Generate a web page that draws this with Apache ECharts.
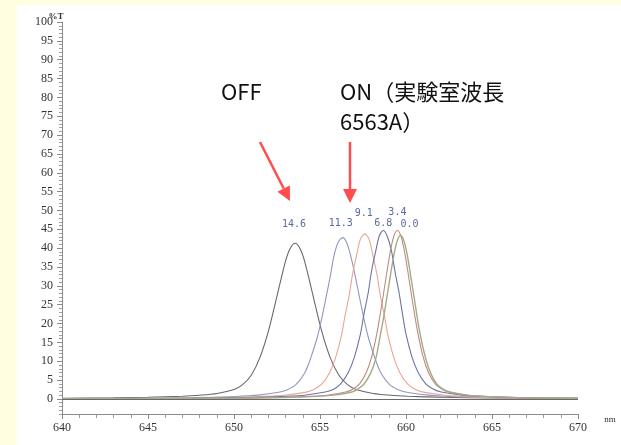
<!DOCTYPE html>
<html><head><meta charset="utf-8">
<script src="https://cdn.jsdelivr.net/npm/echarts@6/dist/echarts.min.js"></script>
<style>
html,body{margin:0;padding:0;background:#fffee0;width:621px;height:445px;overflow:hidden}
#c{position:absolute;left:17px;top:5px;width:604px;height:440px;background:#fff}
</style></head><body><div id="c"></div>
<script>
// tick labels
const xTicks = [640, 645, 650, 655, 660, 665, 670];
const yTicks = [0, 5, 10, 15, 20, 25, 30, 35, 40, 45, 50, 55, 60, 65, 70, 75, 80, 85, 90, 95, 100];
// curve names (peak labels)
const curveNames = ['14.6', '11.3', '9.1', '6.8', '3.4', '0.0'];
// transmission curves [nm, %T]
const curve146 = [[640,0.17],[643,0.29],[645,0.43],[647,0.72],[648,0.99],[649,1.45],[650,2.5],[650.5,3.8],[651,6.3],[651.5,10.9],[652,18.0],[652.5,27.3],[653,36.6],[653.25,39.8],[653.55,41.3],[653.85,39.8],[654.1,36.6],[654.6,27.3],[655.1,18.0],[655.6,10.9],[656.1,6.3],[656.6,3.8],[657.1,2.5],[658.1,1.45],[659.1,0.99],[660.1,0.72],[662.1,0.43],[665,0.24],[670,0.12]];
const curve113 = [[640,0.1],[643.9,0.17],[647.6,0.34],[650.1,0.66],[651.4,1.0],[652.6,1.75],[653.1,2.45],[653.6,3.8],[654.1,6.8],[654.45,10.7],[654.85,16.5],[655.1,21.4],[655.35,26.9],[655.6,32.6],[655.8,37.7],[656.05,41.5],[656.32,42.8],[656.55,41.5],[656.8,37.7],[657.05,32.6],[657.3,26.9],[657.55,21.4],[657.8,16.5],[658.2,10.7],[658.55,6.8],[659.05,3.8],[659.55,2.45],[660.05,1.75],[661.3,1.0],[662.5,0.66],[665,0.34],[668.7,0.17],[670,0.14]];
const curve91 = [[640,0.07],[646.2,0.18],[649.6,0.35],[651.9,0.67],[653.05,1.03],[654.2,1.8],[654.65,2.5],[655.1,3.9],[655.55,6.9],[655.9,10.9],[656.25,16.9],[656.45,21.9],[656.7,27.6],[656.9,33.3],[657.15,38.6],[657.35,42.4],[657.6,43.8],[657.85,42.4],[658.05,38.6],[658.3,33.3],[658.5,27.6],[658.75,21.9],[658.95,16.9],[659.3,10.9],[659.65,6.9],[660.1,3.9],[660.55,2.5],[661,1.8],[662.15,1.03],[663.3,0.67],[665.6,0.35],[669,0.18],[670,0.15]];
const curve68 = [[640,0.06],[647.5,0.18],[650.8,0.36],[653.1,0.69],[654.2,1.05],[655.3,1.83],[655.8,2.56],[656.2,4.0],[656.65,7.1],[657,11.1],[657.35,17.2],[657.55,22.4],[657.8,28.1],[658,34.0],[658.25,39.4],[658.45,43.3],[658.68,44.7],[658.9,43.3],[659.15,39.4],[659.35,34.0],[659.6,28.1],[659.8,22.4],[660,17.2],[660.35,11.1],[660.7,7.1],[661.15,4.0],[661.6,2.56],[662.05,1.83],[663.15,1.05],[664.3,0.69],[666.5,0.36],[670,0.17]];
const curve34 = [[640,0.05],[649.5,0.18],[652.5,0.36],[654.5,0.69],[655.5,1.05],[656.5,1.83],[656.9,2.56],[657.3,4.0],[657.7,7.1],[658,11.1],[658.3,17.2],[658.5,22.4],[658.7,28.1],[658.9,34.0],[659.1,39.4],[659.3,43.3],[659.5,44.7],[659.7,43.3],[659.9,39.4],[660.1,34.0],[660.3,28.1],[660.5,22.4],[660.7,17.2],[661,11.1],[661.3,7.1],[661.7,4.0],[662.1,2.56],[662.5,1.83],[663.5,1.05],[664.5,0.69],[666.5,0.36],[669.5,0.18],[670,0.17]];
const curve00 = [[640,0.05],[650,0.17],[652.9,0.35],[654.8,0.67],[655.8,1.02],[656.8,1.78],[657.15,2.48],[657.55,3.9],[657.95,6.9],[658.25,10.8],[658.5,16.7],[658.7,21.7],[658.9,27.3],[659.1,33.0],[659.3,38.3],[659.5,42.1],[659.68,43.4],[659.87,42.1],[660.07,38.3],[660.26,33.0],[660.46,27.3],[660.65,21.7],[660.84,16.7],[661.14,10.8],[661.43,6.9],[661.8,3.9],[662.2,2.48],[662.6,1.78],[663.55,1.02],[664.5,0.67],[666.5,0.35],[669.4,0.17],[670,0.16]];

const curves = [curve146, curve113, curve91, curve68, curve34, curve00];
const colors = ['#686868', '#9297c0', '#eaa690', '#6c72a6', '#c08a80', '#a3ab8b'];
const labelOffsets = [[-1,-19],[-2,-14],[-1,-20],[0,-7],[0,-18],[9,-11]];

const yMinor = [];
for (let v = -4; v <= 100; v++) if (v % 5 !== 0) yMinor.push(v);

const chart = echarts.init(document.getElementById('c'));
const series = curves.map((d, i) => ({
  type: 'line', name: curveNames[i], data: d, showSymbol: false, smooth: 0.3,
  lineStyle: { color: colors[i], width: i === 5 ? 1.4 : 1.1 }, itemStyle: { color: colors[i] }, z: 3,
  markPoint: {
    symbol: 'circle', symbolSize: 1, itemStyle: { color: 'rgba(0,0,0,0)' },
    data: [{ type: 'max' }],
    label: { show: true, position: 'inside', formatter: () => curveNames[i], offset: labelOffsets[i],
      color: '#5b6b9b', fontFamily: 'DejaVu Sans Mono', fontSize: 10 }
  }
}));
series[0].markLine = { symbol: 'none', silent: true, data: [{ yAxis: 0 }], label: { show: false },
  lineStyle: { color: '#6a6a6a', width: 1.2, type: 'solid' } };

chart.setOption({
  animation: false,
  grid: { left: 45, right: 43, top: 17, bottom: 31 },
  xAxis: {
    type: 'value', min: 640, max: 670, interval: 5,
    axisLine: { show: true, onZero: false, lineStyle: { color: '#8a8a8a' } },
    axisTick: { show: true, length: 5, lineStyle: { color: '#8a8a8a' } },
    minorTick: { show: true, splitNumber: 5, length: 4, lineStyle: { color: '#9a9a9a' } },
    axisLabel: { margin: 8, fontSize: 12, color: '#333', fontFamily: 'Liberation Sans Narrow',
      customValues: xTicks },
    splitLine: { show: false }
  },
  yAxis: [{
    type: 'value', min: -4, max: 100,
    axisLine: { show: true, lineStyle: { color: '#8a8a8a' } },
    axisTick: { show: true, customValues: yTicks, length: 5, lineStyle: { color: '#8a8a8a' } },
    axisLabel: { customValues: yTicks, margin: 9, fontSize: 12, color: '#333', fontFamily: 'Liberation Sans Narrow' },
    splitLine: { show: false }
  }, {
    type: 'value', min: -4, max: 100, position: 'left',
    axisLine: { show: false },
    axisTick: { show: true, customValues: yMinor, length: 3, lineStyle: { color: '#a0a0a0' } },
    axisLabel: { show: false }, splitLine: { show: false }
  }],
  series: series,
  graphic: [
    { type: 'text', x: 39, y: 11.5, style: { text: '%T', font: 'bold 9px "Liberation Sans Narrow"', fill: '#333', align: 'center', verticalAlign: 'middle' } },
    { type: 'text', x: 593, y: 415, style: { text: 'nm', font: '9px "Liberation Sans Narrow"', fill: '#333', align: 'center', verticalAlign: 'middle' } },
    { type: 'text', x: 204, y: 87, style: { text: 'OFF', font: '22px "Noto Sans CJK JP"', fill: '#111', align: 'left', verticalAlign: 'middle' } },
    { type: 'text', x: 323, y: 87, style: { text: 'ON（実験室波長', font: '22px "Noto Sans CJK JP"', fill: '#111', align: 'left', verticalAlign: 'middle' } },
    { type: 'text', x: 323, y: 117, style: { text: '6563A）', font: '22px "Noto Sans CJK JP"', fill: '#111', align: 'left', verticalAlign: 'middle' } },
    { type: 'line', shape: { x1: 243, y1: 137, x2: 266.7, y2: 183.5 }, style: { stroke: '#ff4d4d', lineWidth: 2.5 } },
    { type: 'polygon', shape: { points: [[273, 196], [260.4, 186.7], [272.9, 180.4]] }, style: { fill: '#ff4d4d' } },
    { type: 'line', shape: { x1: 333, y1: 137, x2: 333, y2: 185 }, style: { stroke: '#ff4d4d', lineWidth: 2.5 } },
    { type: 'polygon', shape: { points: [[326, 184], [340, 184], [333, 198]] }, style: { fill: '#ff4d4d' } }
  ]
});
</script></body></html>
